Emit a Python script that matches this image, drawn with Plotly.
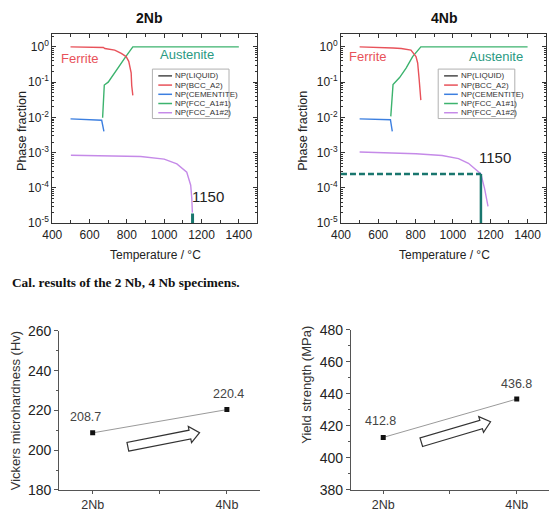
import math
import plotly.graph_objects as go

W, H = 559, 527

# ---------------- data ----------------
# 2Nb phase fractions
T_bcc_2 = [498, 674, 682, 735, 770, 796, 810, 823, 826, 832]
f_bcc_2 = [1.0, 0.96, 0.9, 0.81, 0.65, 0.53, 0.39, 0.185, 0.08, 0.042]
T_fcc1_2 = [670, 679, 700, 735, 770, 796, 832, 1400]
f_fcc1_2 = [0.0098, 0.083, 0.10, 0.19, 0.35, 0.55, 1.0, 1.0]
T_cem_2 = [498, 665, 677]
f_cem_2 = [0.0091, 0.0083, 0.004]
T_fcc2_2 = [500, 700, 874, 1000, 1068, 1121, 1142, 1148, 1151]
f_fcc2_2 = [8.5e-4, 8.1e-4, 7.8e-4, 6.6e-4, 4.8e-4, 2.8e-4, 1.2e-4, 5e-5, 2e-5]
mark_T_2 = [1152, 1152]
mark_f_2 = [1e-5, 1.9e-5]

# 4Nb phase fractions
T_bcc_4 = [500, 661, 679, 723, 775, 802, 811, 819, 828]
f_bcc_4 = [1.0, 0.96, 0.93, 0.9, 0.81, 0.53, 0.35, 0.12, 0.031]
T_fcc1_4 = [667, 679, 714, 749, 784, 828, 1400]
f_fcc1_4 = [0.0107, 0.085, 0.135, 0.25, 0.53, 1.0, 1.0]
T_cem_4 = [500, 665, 675]
f_cem_4 = [0.0091, 0.0086, 0.004]
T_fcc2_4 = [500, 802, 942, 1030, 1083, 1126, 1150, 1170, 1183, 1188]
f_fcc2_4 = [1.05e-3, 9.3e-4, 8.3e-4, 6.8e-4, 5e-4, 3.2e-4, 2.5e-4, 9.4e-5, 3.5e-5, 3e-5]
dash_T_4 = [400, 1150]
dash_f_4 = [2.5e-4, 2.5e-4]
vert_T_4 = [1150, 1150]
vert_f_4 = [2.5e-4, 1e-5]

# mechanical properties
specimens = ["2Nb", "4Nb"]
spec_x = [1, 2]
hardness = [208.7, 220.4]
yield_str = [412.8, 436.8]

legend_names = ["NP(LIQUID)", "NP(BCC_A2)", "NP(CEMENTITE)", "NP(FCC_A1#1)", "NP(FCC_A1#2)"]
legend_colors = ["#4a4a4a", "#e8525a", "#3c7fe0", "#3cb36e", "#c58ae8"]

log_tickvals = [1, 0.1, 0.01, 1e-3, 1e-4, 1e-5]
log_ticktext = ["10<sup>0</sup>", "10<sup>-1</sup>", "10<sup>-2</sup>",
                "10<sup>-3</sup>", "10<sup>-4</sup>", "10<sup>-5</sup>"]

RED, BLUE, GREEN, VIOLET = legend_colors[1], legend_colors[2], legend_colors[3], legend_colors[4]
TEAL = "#19766e"
FONT = "Liberation Sans, Arial, sans-serif"

fig = go.Figure()


def add_phase(xa, ya, T_bcc, f_bcc, T_fcc1, f_fcc1, T_cem, f_cem, T_fcc2, f_fcc2):
    for T, f, c in [(T_cem, f_cem, BLUE), (T_fcc2, f_fcc2, VIOLET),
                    (T_fcc1, f_fcc1, GREEN), (T_bcc, f_bcc, RED)]:
        fig.add_trace(go.Scatter(x=T, y=f, mode="lines", line=dict(color=c, width=1.4),
                                 xaxis=xa, yaxis=ya, showlegend=False, hoverinfo="skip"))


add_phase("x", "y", T_bcc_2, f_bcc_2, T_fcc1_2, f_fcc1_2, T_cem_2, f_cem_2, T_fcc2_2, f_fcc2_2)
fig.add_trace(go.Scatter(x=mark_T_2, y=mark_f_2, mode="lines", line=dict(color=TEAL, width=3),
                         xaxis="x", yaxis="y", showlegend=False))
add_phase("x2", "y2", T_bcc_4, f_bcc_4, T_fcc1_4, f_fcc1_4, T_cem_4, f_cem_4, T_fcc2_4, f_fcc2_4)
fig.add_trace(go.Scatter(x=dash_T_4, y=dash_f_4, mode="lines",
                         line=dict(color=TEAL, width=2.5, dash="6px,3px"),
                         xaxis="x2", yaxis="y2", showlegend=False))
fig.add_trace(go.Scatter(x=vert_T_4, y=vert_f_4, mode="lines", line=dict(color=TEAL, width=2.5),
                         xaxis="x2", yaxis="y2", showlegend=False))

fig.add_trace(go.Scatter(x=spec_x, y=hardness, mode="lines+markers",
                         line=dict(color="#9a9a9a", width=1),
                         marker=dict(symbol="square", size=5, color="#111"),
                         xaxis="x3", yaxis="y3", showlegend=False))
fig.add_trace(go.Scatter(x=spec_x, y=yield_str, mode="lines+markers",
                         line=dict(color="#9a9a9a", width=1),
                         marker=dict(symbol="square", size=5, color="#111"),
                         xaxis="x4", yaxis="y4", showlegend=False))


def px_dom(x0, x1):
    return [x0 / W, x1 / W]


def py_dom(ytop, ybot):
    return [1 - ybot / H, 1 - ytop / H]


minor_log = [m * 10 ** e for e in range(-5, 1) for m in range(2, 10)]

top_x = dict(range=[400, 1500], tickvals=[400, 600, 800, 1000, 1200, 1400],
             ticks="inside", ticklen=4, tickcolor="#333", showline=True, linecolor="#333",
             linewidth=1, mirror="allticks", showgrid=False, zeroline=False,
             tickfont=dict(family=FONT, size=12, color="#222"),
             minor=dict(tickvals=[500, 700, 900, 1100, 1300, 1500], ticks="inside",
                        ticklen=3, tickcolor="#333"))
top_y = dict(type="log", range=[-5, 0.36], tickvals=log_tickvals, ticktext=log_ticktext,
             ticks="inside", ticklen=4, tickcolor="#333", showline=True, linecolor="#333",
             linewidth=1, mirror="allticks", showgrid=False, zeroline=False,
             tickfont=dict(family=FONT, size=12, color="#222"),
             minor=dict(tickvals=minor_log, ticks="inside", ticklen=2, tickcolor="#333"))

bot_x = dict(tickvals=spec_x, ticktext=specimens, ticks="outside", ticklen=3,
             tickcolor="#555", showline=True, linecolor="#555", linewidth=1, showgrid=False,
             zeroline=False, tickfont=dict(family=FONT, size=12.5, color="#333"),
             minor=dict(tickvals=[1.5], ticks="outside", ticklen=3, tickcolor="#555"))
bot_y = dict(ticks="outside", ticklen=4, tickcolor="#555", showline=True, linecolor="#555",
             linewidth=1, showgrid=False, zeroline=False,
             tickfont=dict(family=FONT, size=14, color="#222"),
             minor=dict(ticks="outside", ticklen=2, tickcolor="#555", dtick=10))

fig.update_layout(
    width=W, height=H, margin=dict(l=0, r=0, t=0, b=0),
    paper_bgcolor="white", plot_bgcolor="white", showlegend=False,
    xaxis=dict(top_x, domain=px_dom(43, 252), anchor="y"),
    yaxis=dict(top_y, domain=py_dom(27, 222), anchor="x"),
    xaxis2=dict(top_x, domain=px_dom(337, 546), anchor="y2"),
    yaxis2=dict(top_y, domain=py_dom(27, 222), anchor="x2"),
    xaxis3=dict(bot_x, domain=px_dom(50, 255), range=[0.75, 2.25], anchor="y3"),
    yaxis3=dict(bot_y, domain=py_dom(333, 497), range=[180, 260], dtick=20, anchor="x3"),
    xaxis4=dict(bot_x, domain=px_dom(347, 549), range=[0.757, 2.243], anchor="y4"),
    yaxis4=dict(bot_y, domain=py_dom(332, 497), range=[380, 480], dtick=20, anchor="x4"),
)

ann = []


def ptext(x, y, text, size=12, color="#222", angle=0, bold=False, family=FONT, **kw):
    if bold:
        text = "<b>" + text + "</b>"
    d = dict(x=x / W, y=1 - y / H, xref="paper", yref="paper", text=text, showarrow=False,
             font=dict(family=family, size=size, color=color), textangle=angle,
             xanchor="center", yanchor="middle")
    d.update(kw)
    ann.append(d)


# titles and axis titles
ptext(142, 10, "2Nb", size=14, bold=True, color="#111")
ptext(442, 10, "4Nb", size=14, bold=True, color="#111")
ptext(12, 127, "Phase fraction", size=12.5, angle=-90, color="#222")
ptext(298, 127, "Phase fraction", size=12.5, angle=-90, color="#222")
ptext(148, 255, "Temperature / °C", size=12, color="#222")
ptext(442, 255, "Temperature / °C", size=12, color="#222")
ptext(0, 283, "Cal. results of the 2 Nb, 4 Nb specimens.", size=13.3, bold=True,
      family="Liberation Serif, Times New Roman, serif", color="#111", xanchor="left")
ptext(6, 415, "Vickers microhardness (Hv)", size=13, angle=-90, color="#333")
ptext(302, 389, "Yield strength (MPa)", size=13, angle=-90, color="#333")

# in-plot labels (data coords)
for xa, ya, items in [
    ("x", "y", [(547, -0.32, "Ferrite", RED, 13), (1121, -0.23, "Austenite", "#2a9a82", 13),
                (1235, -4.24, "1150", "#222", 15)]),
    ("x2", "y2", [(547, -0.27, "Ferrite", RED, 13), (1232, -0.26, "Austenite", "#2a9a82", 13),
                  (1223, -3.14, "1150", "#222", 15)]),
]:
    for tx, ty, t, c, s in items:
        ann.append(dict(x=tx, y=ty, xref=xa, yref=ya, text=t, showarrow=False,
                        font=dict(family=FONT, size=s, color=c)))

for xa, ya, vals, shifts in [("x3", "y3", hardness, [(-7, 16), (2, 16)]),
                             ("x4", "y4", yield_str, [(-3, 16), (0, 15)])]:
    for xv, v, (sx, sy) in zip(spec_x, vals, shifts):
        ann.append(dict(x=xv, y=v, xref=xa, yref=ya, text=f"{v:.1f}", showarrow=False,
                        xshift=sx, yshift=sy, font=dict(family=FONT, size=12.5, color="#444")))

shapes = []

# legends (drawn as decoration)
for bx0, lx0 in [(145, 151), (436, 442)]:
    shapes.append(dict(type="rect", xref="paper", yref="paper",
                       x0=bx0 / W, x1=(bx0 + 78) / W, y0=1 - 114 / H, y1=1 - 63 / H,
                       line=dict(color="#b0b0b0", width=1), fillcolor="white"))
    for i, (name, col) in enumerate(zip(legend_names, legend_colors)):
        yy = 70 + i * 9.5
        shapes.append(dict(type="line", xref="paper", yref="paper",
                           x0=lx0 / W, x1=(lx0 + 14) / W, y0=1 - yy / H, y1=1 - yy / H,
                           line=dict(color=col, width=1.5)))
        ann.append(dict(x=(lx0 + 15) / W, y=1 - yy / H, xref="paper", yref="paper",
                        text=name, showarrow=False, xanchor="left", yanchor="middle",
                        font=dict(family=FONT, size=8, color="#333")))


def arrow_path(tail, tip, bw=4.6, hw=8.5, hl=10):
    tx, ty = tail
    hx, hy = tip
    dx, dy = hx - tx, hy - ty
    L = math.hypot(dx, dy)
    ux, uy = dx / L, dy / L
    nx, ny = -uy, ux
    bx, by = hx - ux * hl, hy - uy * hl
    pts = [(tx + nx * bw, ty + ny * bw), (bx + nx * bw, by + ny * bw),
           (bx + nx * hw, by + ny * hw), (hx, hy),
           (bx - nx * hw, by - ny * hw), (bx - nx * bw, by - ny * bw),
           (tx - nx * bw, ty - ny * bw)]
    s = "M " + " L ".join(f"{x / W:.5f},{1 - y / H:.5f}" for x, y in pts) + " Z"
    return s


for tail, tip in [((120, 452.5), (193, 438)), ((418.8, 447.8), (489.3, 426.7))]:
    shapes.append(dict(type="path", xref="paper", yref="paper", path=arrow_path(tail, tip),
                       line=dict(color="#333", width=1.2), fillcolor="white"))

fig.update_layout(annotations=ann, shapes=shapes)
fig.write_html("out.html")
